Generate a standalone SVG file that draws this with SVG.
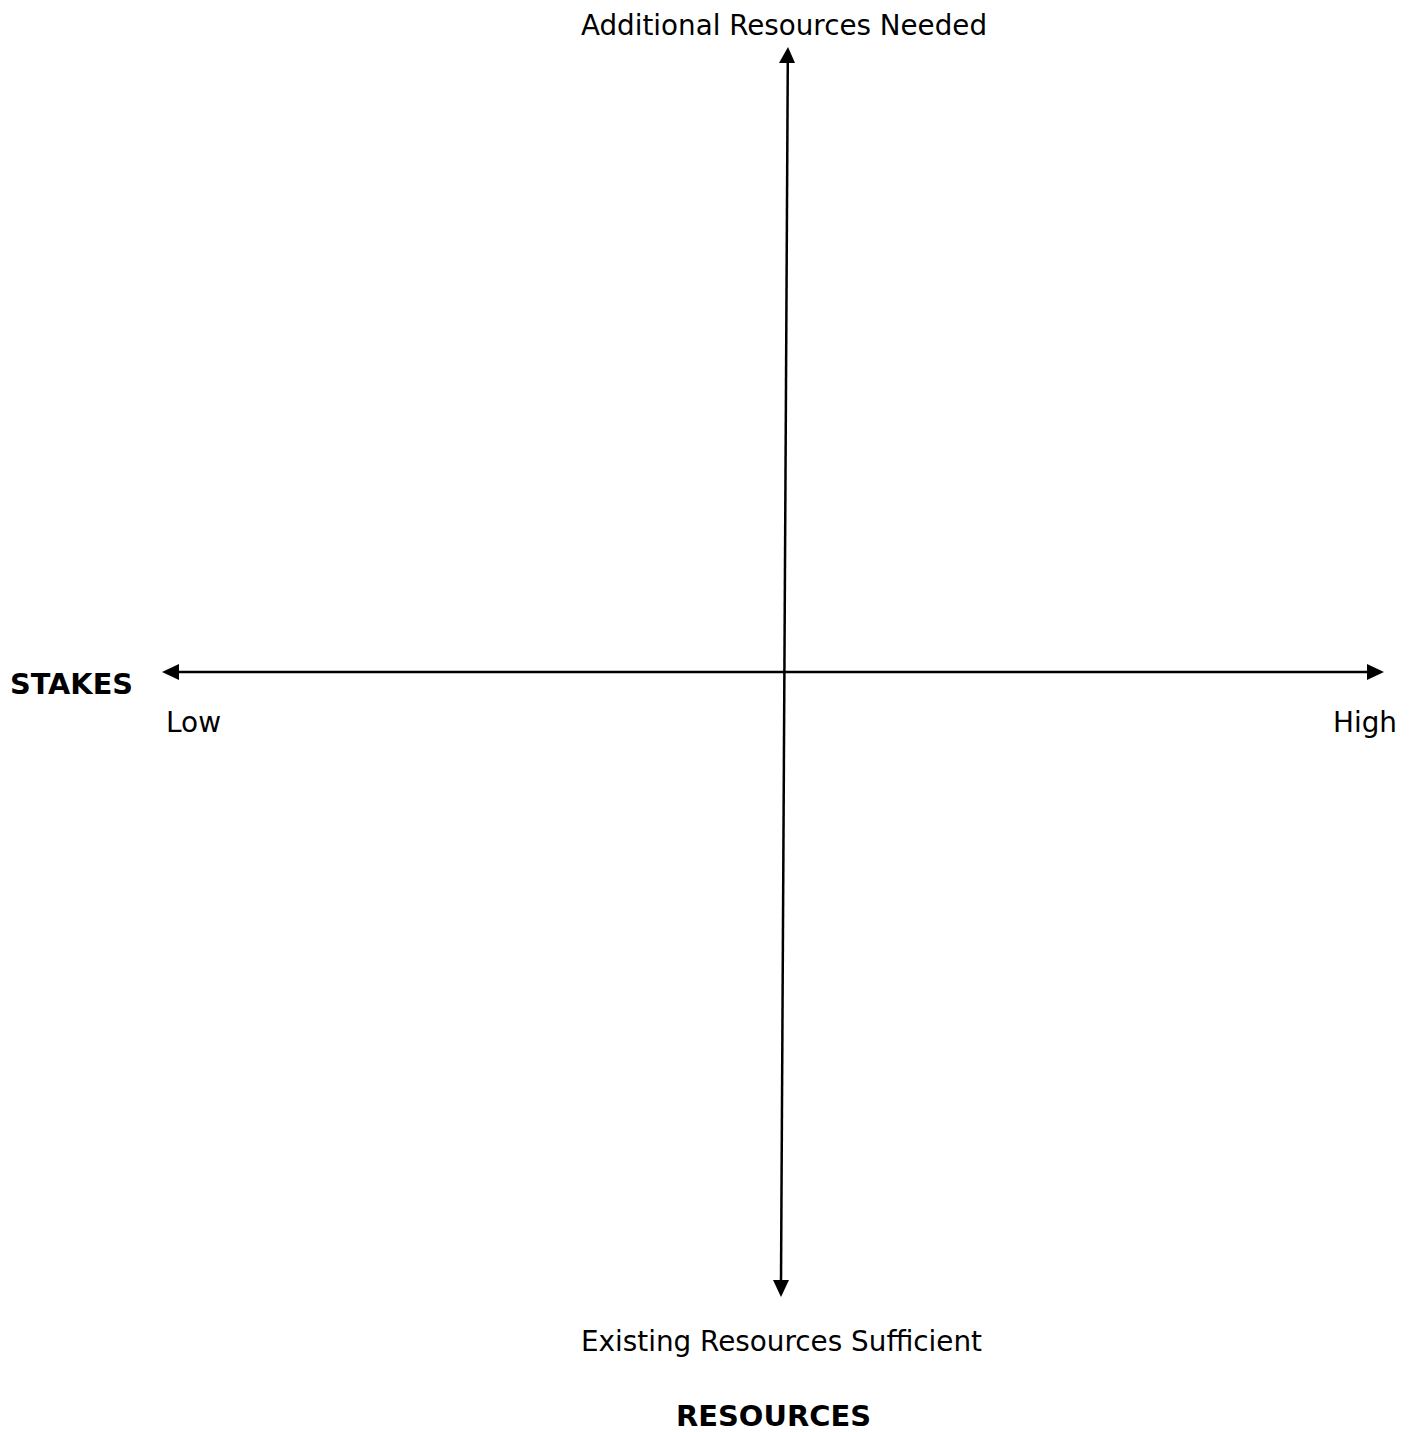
<svg xmlns="http://www.w3.org/2000/svg" width="1411" height="1432" viewBox="0 0 1411 1432">
<defs>
<style>
.lbl{font-family:"DejaVu Sans","Liberation Sans",sans-serif;font-size:29px;fill:#000}
.ttl{font-family:"DejaVu Sans","Liberation Sans",sans-serif;font-size:29px;font-weight:bold;fill:#000}
.ax{stroke:#000;stroke-width:2.5;fill:none}
.hd{fill:#000;stroke:none}
</style>
</defs>
<rect width="1411" height="1432" fill="#fff"/>
<g id="connectors">
<line class="ax" x1="787.8" y1="60" x2="781" y2="1283"/>
<polygon class="hd" points="788,47 795,63 779,63"/>
<polygon class="hd" points="781,1297 773,1280 789,1280"/>
<line class="ax" x1="176" y1="672" x2="1369" y2="672"/>
<polygon class="hd" points="162,672 179,664 179,680"/>
<polygon class="hd" points="1384,672 1367,664 1367,680"/>
</g>
<g id="label-top"><text class="lbl" x="581" y="35" textLength="406" lengthAdjust="spacingAndGlyphs">Additional Resources Needed</text></g>
<g id="label-bottom"><text class="lbl" x="581" y="1351" textLength="401" lengthAdjust="spacingAndGlyphs">Existing Resources Sufficient</text></g>
<g id="label-stakes"><text class="ttl" x="10" y="694" textLength="123" lengthAdjust="spacingAndGlyphs">STAKES</text></g>
<g id="label-low"><text class="lbl" x="166" y="732" textLength="55" lengthAdjust="spacingAndGlyphs">Low</text></g>
<g id="label-high"><text class="lbl" x="1333" y="732" textLength="64" lengthAdjust="spacingAndGlyphs">High</text></g>
<g id="label-resources"><text class="ttl" x="676" y="1426" textLength="195" lengthAdjust="spacingAndGlyphs">RESOURCES</text></g>
</svg>
